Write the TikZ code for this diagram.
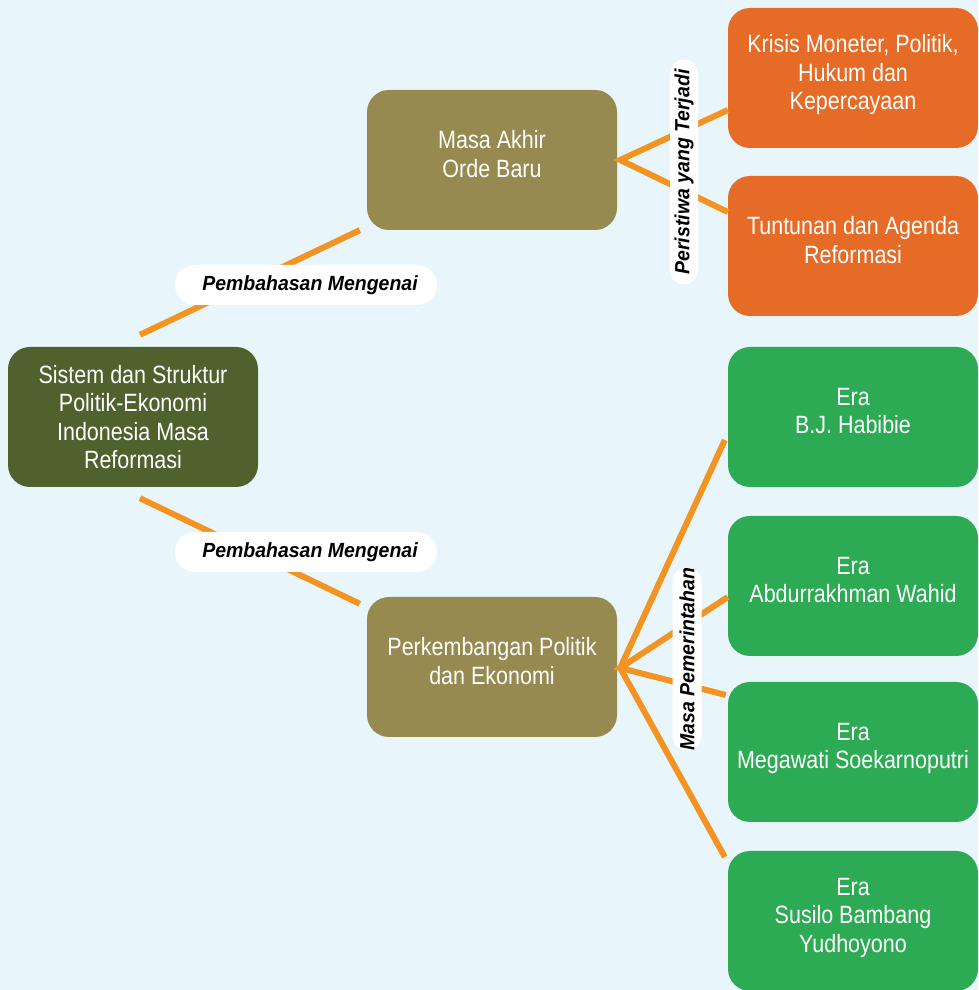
\documentclass[tikz,border=0pt]{standalone}
\usepackage{fontspec}
\setmainfont{Liberation Sans}[FakeStretch=0.86]
\newfontfamily\tagfamily{Liberation Sans}[FakeStretch=0.95]
\usepackage{tikz}
\usetikzlibrary{calc,backgrounds}
\definecolor{bgblue}{HTML}{E8F5FB}
\definecolor{rootgreen}{HTML}{4F622D}
\definecolor{olivebox}{HTML}{978A51}
\definecolor{orangebox}{HTML}{E56B27}
\definecolor{greenbox}{HTML}{2DAA54}
\definecolor{orangeline}{HTML}{F39321}
\newcommand{\linecolor}{orangeline}
\newcommand{\linethick}{6pt}
\newcommand{\boxfont}{\fontsize{25}{28.5}\selectfont}
\newcommand{\tagfont}{\tagfamily\fontsize{20.5}{23}\selectfont\bfseries\itshape}

\begin{document}
\begin{tikzpicture}[x=1pt,y=1pt,
  box/.style={rounded corners=22pt, minimum width=250pt, minimum height=140pt, inner sep=0pt, text depth=12pt, text=white, align=center, font=\boxfont},
  tag/.style={fill=white, inner sep=0pt, font=\tagfont}]
\useasboundingbox (0,0) rectangle (978,990);
\fill[bgblue] (0,0) rectangle (978,990);
%boxes
\node[box, fill=rootgreen, text depth=-4pt] (root) at (133, 573) {Sistem dan Struktur\\Politik-Ekonomi\\Indonesia Masa\\Reformasi};
\node[box, fill=olivebox] (akhir) at (492, 830) {Masa Akhir\\ Orde Baru};
\node[box, fill=olivebox] (perk) at (492, 323) {Perkembangan Politik\\dan Ekonomi};
\node[box, fill=orangebox] (krisis) at (853, 912) {Krisis Moneter, Politik,\\Hukum dan\\Kepercayaan};
\node[box, fill=orangebox] (tuntut) at (853, 744) {Tuntunan dan Agenda\\Reformasi};
\node[box, fill=greenbox] (habibie) at (853, 573) {Era\\B.J. Habibie};
\node[box, fill=greenbox] (gusdur) at (853, 404) {Era\\Abdurrakhman Wahid};
\node[box, fill=greenbox] (mega) at (853, 238) {Era\\Megawati Soekarnoputri};
\node[box, fill=greenbox] (sby) at (853, 69) {Era\\Susilo Bambang\\Yudhoyono};
%root
\coordinate (r1) at ($(root.north)+(7,12)$);
\coordinate (r2) at ($(root.south)+(7,-11)$);
\coordinate (a1) at ($(akhir.south west)+(-7,0)$);
\coordinate (p1) at ($(perk.north west)+(-7,-7)$);
\draw[\linecolor] [line width = \linethick] (r1) -- (a1);
\draw[\linecolor] [line width = \linethick] (r2) -- (p1);
%akhir
\coordinate (fa) at ($(akhir.east)+(3,0)$);
\coordinate (k1) at ($(krisis.west)+(0,-32)$);
\coordinate (t1) at ($(tuntut.west)+(0,34)$);
\draw[\linecolor] [line width = \linethick] (k1) -- (fa) -- (t1);
%perk
\coordinate (fp) at ($(perk.east)+(3,-1)$);
\coordinate (h1) at ($(habibie.west)+(-3,-23)$);
\coordinate (g1) at ($(gusdur.west)+(0,-11)$);
\coordinate (m1) at ($(mega.west)+(-2,57)$);
\coordinate (s1) at ($(sby.west)+(-3,64)$);
\draw[\linecolor] [line width = \linethick] (h1) -- (fp) -- (s1);
\draw[\linecolor] [line width = \linethick] (g1) -- (fp) -- (m1);
%tags
\node[tag, rounded corners=20pt, minimum width=262pt, minimum height=40pt] (tag1) at (306, 705) {\hspace{8pt}Pembahasan Mengenai};
\node[tag, rounded corners=20pt, minimum width=262pt, minimum height=40pt] (tag2) at (306, 438) {\hspace{8pt}Pembahasan Mengenai};
\node[tag, rounded corners=14pt, minimum width=225pt, minimum height=28pt, rotate=90] (tag3) at (684, 818) {Peristiwa yang Terjadi};
\node[tag, rounded corners=14pt, minimum width=183pt, minimum height=29pt, rotate=90] (tag4) at (687, 331) {Masa Pemerintahan};
\end{tikzpicture}
\end{document}
